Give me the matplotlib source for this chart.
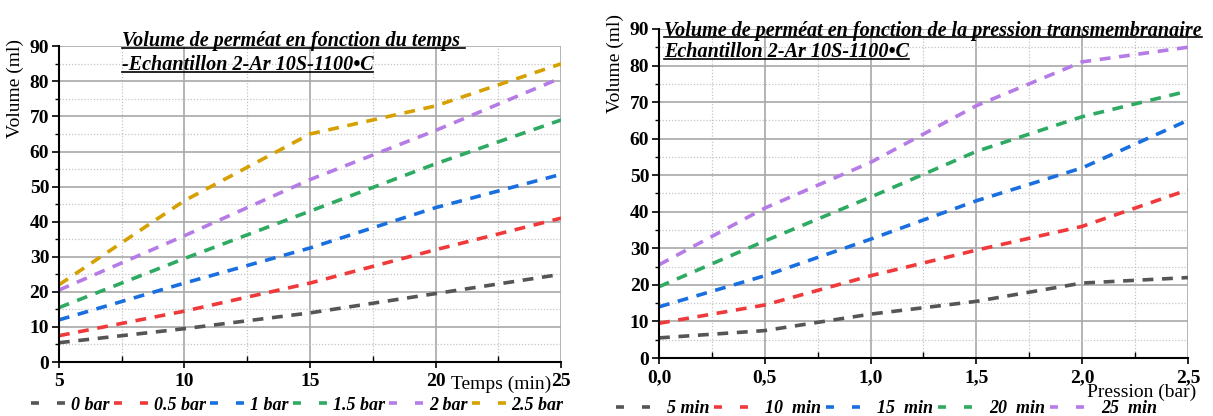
import matplotlib
matplotlib.use("Agg")
import matplotlib.pyplot as plt
from matplotlib.lines import Line2D
from matplotlib.ticker import MultipleLocator, FuncFormatter

plt.rcParams['font.family'] = ['Liberation Serif', 'DejaVu Serif']

# data
temps = [5, 10, 15, 20, 25]
pressions = [0.0, 0.5, 1.0, 1.5, 2.0, 2.5]

v_0bar = [5.5, 9.5, 14, 19.5, 25]
v_05bar = [7.5, 14.5, 22.5, 32, 41]
v_1bar = [12, 22.5, 32.5, 44, 53.5]
v_15bar = [15.5, 29.5, 43, 56.5, 69]
v_2bar = [20.5, 36, 52, 66, 81]
v_25bar = [22, 46, 65, 73, 85]

v_5min = [5.5, 7.5, 12, 15.5, 20.5, 22]
v_10min = [9.5, 14.5, 22.5, 29.5, 36, 46]
v_15min = [14, 22.5, 32.5, 43, 52, 65]
v_20min = [19.5, 32, 44, 56.5, 66, 73]
v_25min = [25.5, 41, 53.5, 69, 81, 85]

labels_left = ['0 bar', '0.5 bar', '1 bar', '1.5 bar', '2 bar', '2.5 bar']
labels_right = ['5 min', '10  min', '15  min', '20  min', '25  min']

colors = ['#555555', '#f0393a', '#1a6fe0', '#2eaa62', '#b57ce6', '#d6a100']
dash = (3.0, 2.4)


def style_axes(ax):
    ax.grid(which='major', color='#a8a8a8', lw=1.2, ls='-')
    ax.grid(which='minor', color='#c4c4c4', lw=0.9, ls=(0, (1, 1.5)))
    ax.set_axisbelow(True)
    for s in ['top', 'right']:
        ax.spines[s].set_visible(False)
    ax.spines['left'].set_linewidth(1.5)
    ax.spines['bottom'].set_linewidth(1.5)
    ax.tick_params(axis='y', which='major', direction='out', length=5, width=1.2,
                   labelsize=14, pad=2)
    ax.tick_params(axis='y', which='minor', direction='out', length=3, width=1)
    ax.tick_params(axis='x', which='major', direction='out', length=4, width=1.2,
                   labelsize=14, pad=4)
    ax.tick_params(axis='x', which='minor', direction='in', length=4, width=1)
    for lab in ax.get_xticklabels() + ax.get_yticklabels():
        lab.set_fontweight('bold')


def underlined_title(fig, ax, lines, x0, y0, dy, size):
    fig.canvas.draw()
    r = fig.canvas.get_renderer()
    for i, s in enumerate(lines):
        t = ax.text(x0, y0 - i * dy, s, transform=ax.transAxes, fontsize=size,
                    fontweight='bold', style='italic', va='baseline', ha='left')
        bb = t.get_window_extent(renderer=r)
        inv = fig.transFigure.inverted()
        (fx0, fy0), (fx1, fy1) = inv.transform([[bb.x0, bb.y0], [bb.x1, bb.y0]])
        fig.add_artist(Line2D([fx0, fx1], [fy0 + 0.008, fy0 + 0.008],
                              transform=fig.transFigure, color='black', lw=1.2))


fig = plt.figure(figsize=(12.13, 4.16), dpi=100)
ax1 = fig.add_axes([0.0486, 0.1298, 0.414, 0.759])
ax2 = fig.add_axes([0.5433, 0.1394, 0.436, 0.791])

# left: volume vs time
left_series = [v_0bar, v_05bar, v_1bar, v_15bar, v_2bar, v_25bar]
for ys, c in zip(left_series, colors):
    ax1.plot(temps, ys, color=c, lw=2.6, dashes=dash, solid_capstyle='butt')
ax1.set_xlim(5, 25)
ax1.set_ylim(0, 90)
ax1.xaxis.set_major_locator(MultipleLocator(5))
ax1.xaxis.set_minor_locator(MultipleLocator(2.5))
ax1.yaxis.set_major_locator(MultipleLocator(10))
ax1.yaxis.set_minor_locator(MultipleLocator(5))
style_axes(ax1)
ax1.set_ylabel('Volume (ml)', fontsize=14)
ax1.yaxis.set_label_coords(-0.07, 0.865)
ax1.text(0.78, -0.07, 'Temps (min)', transform=ax1.transAxes, fontsize=14,
         ha='left', va='center')

# right: volume vs pressure
right_series = [v_5min, v_10min, v_15min, v_20min, v_25min]
for ys, c in zip(right_series, colors):
    ax2.plot(pressions, ys, color=c, lw=2.6, dashes=dash, solid_capstyle='butt')
ax2.set_xlim(0, 2.5)
ax2.set_ylim(0, 90)
ax2.xaxis.set_major_locator(MultipleLocator(0.5))
ax2.xaxis.set_minor_locator(MultipleLocator(0.25))
ax2.yaxis.set_major_locator(MultipleLocator(10))
ax2.yaxis.set_minor_locator(MultipleLocator(5))
ax2.xaxis.set_major_formatter(FuncFormatter(lambda v, p: f'{v:.1f}'.replace('.', ',')))
style_axes(ax2)
ax2.set_ylabel('Volume (ml)', fontsize=14)
ax2.yaxis.set_label_coords(-0.066, 0.895)
ax2.text(0.81, -0.105, 'Pression (bar)', transform=ax2.transAxes, fontsize=14,
         ha='left', va='center')

# legends
leg_dash = (2.2, 5.0)
h1 = [Line2D([], [], color=c, lw=2.6, dashes=leg_dash) for c in colors]
ax1.legend(h1, labels_left, loc='upper center', bbox_to_anchor=(0.475, -0.075),
           ncol=6, frameon=False, handlelength=2.0, handletextpad=0.2,
           columnspacing=0.25, borderpad=0.1,
           prop={'weight': 'bold', 'style': 'italic', 'size': 13})
h2 = [Line2D([], [], color=c, lw=2.6, dashes=leg_dash) for c in colors[:5]]
ax2.legend(h2, labels_right, loc='upper center', bbox_to_anchor=(0.43, -0.095),
           ncol=5, frameon=False, handlelength=2.6, handletextpad=0.2,
           columnspacing=0.3, borderpad=0.1,
           prop={'weight': 'bold', 'style': 'italic', 'size': 13})

# titles
underlined_title(fig, ax1, ['Volume de perméat en fonction du temps ',
                            '-Echantillon 2-Ar 10S-1100•C'],
                 0.125, 1.0, 0.075, 14.5)
underlined_title(fig, ax2, ['Volume de perméat en fonction de la pression transmembranaire',
                            'Echantillon 2-Ar 10S-1100•C'],
                 0.01, 0.98, 0.066, 14.5)

fig.savefig('out.png', dpi=100)
